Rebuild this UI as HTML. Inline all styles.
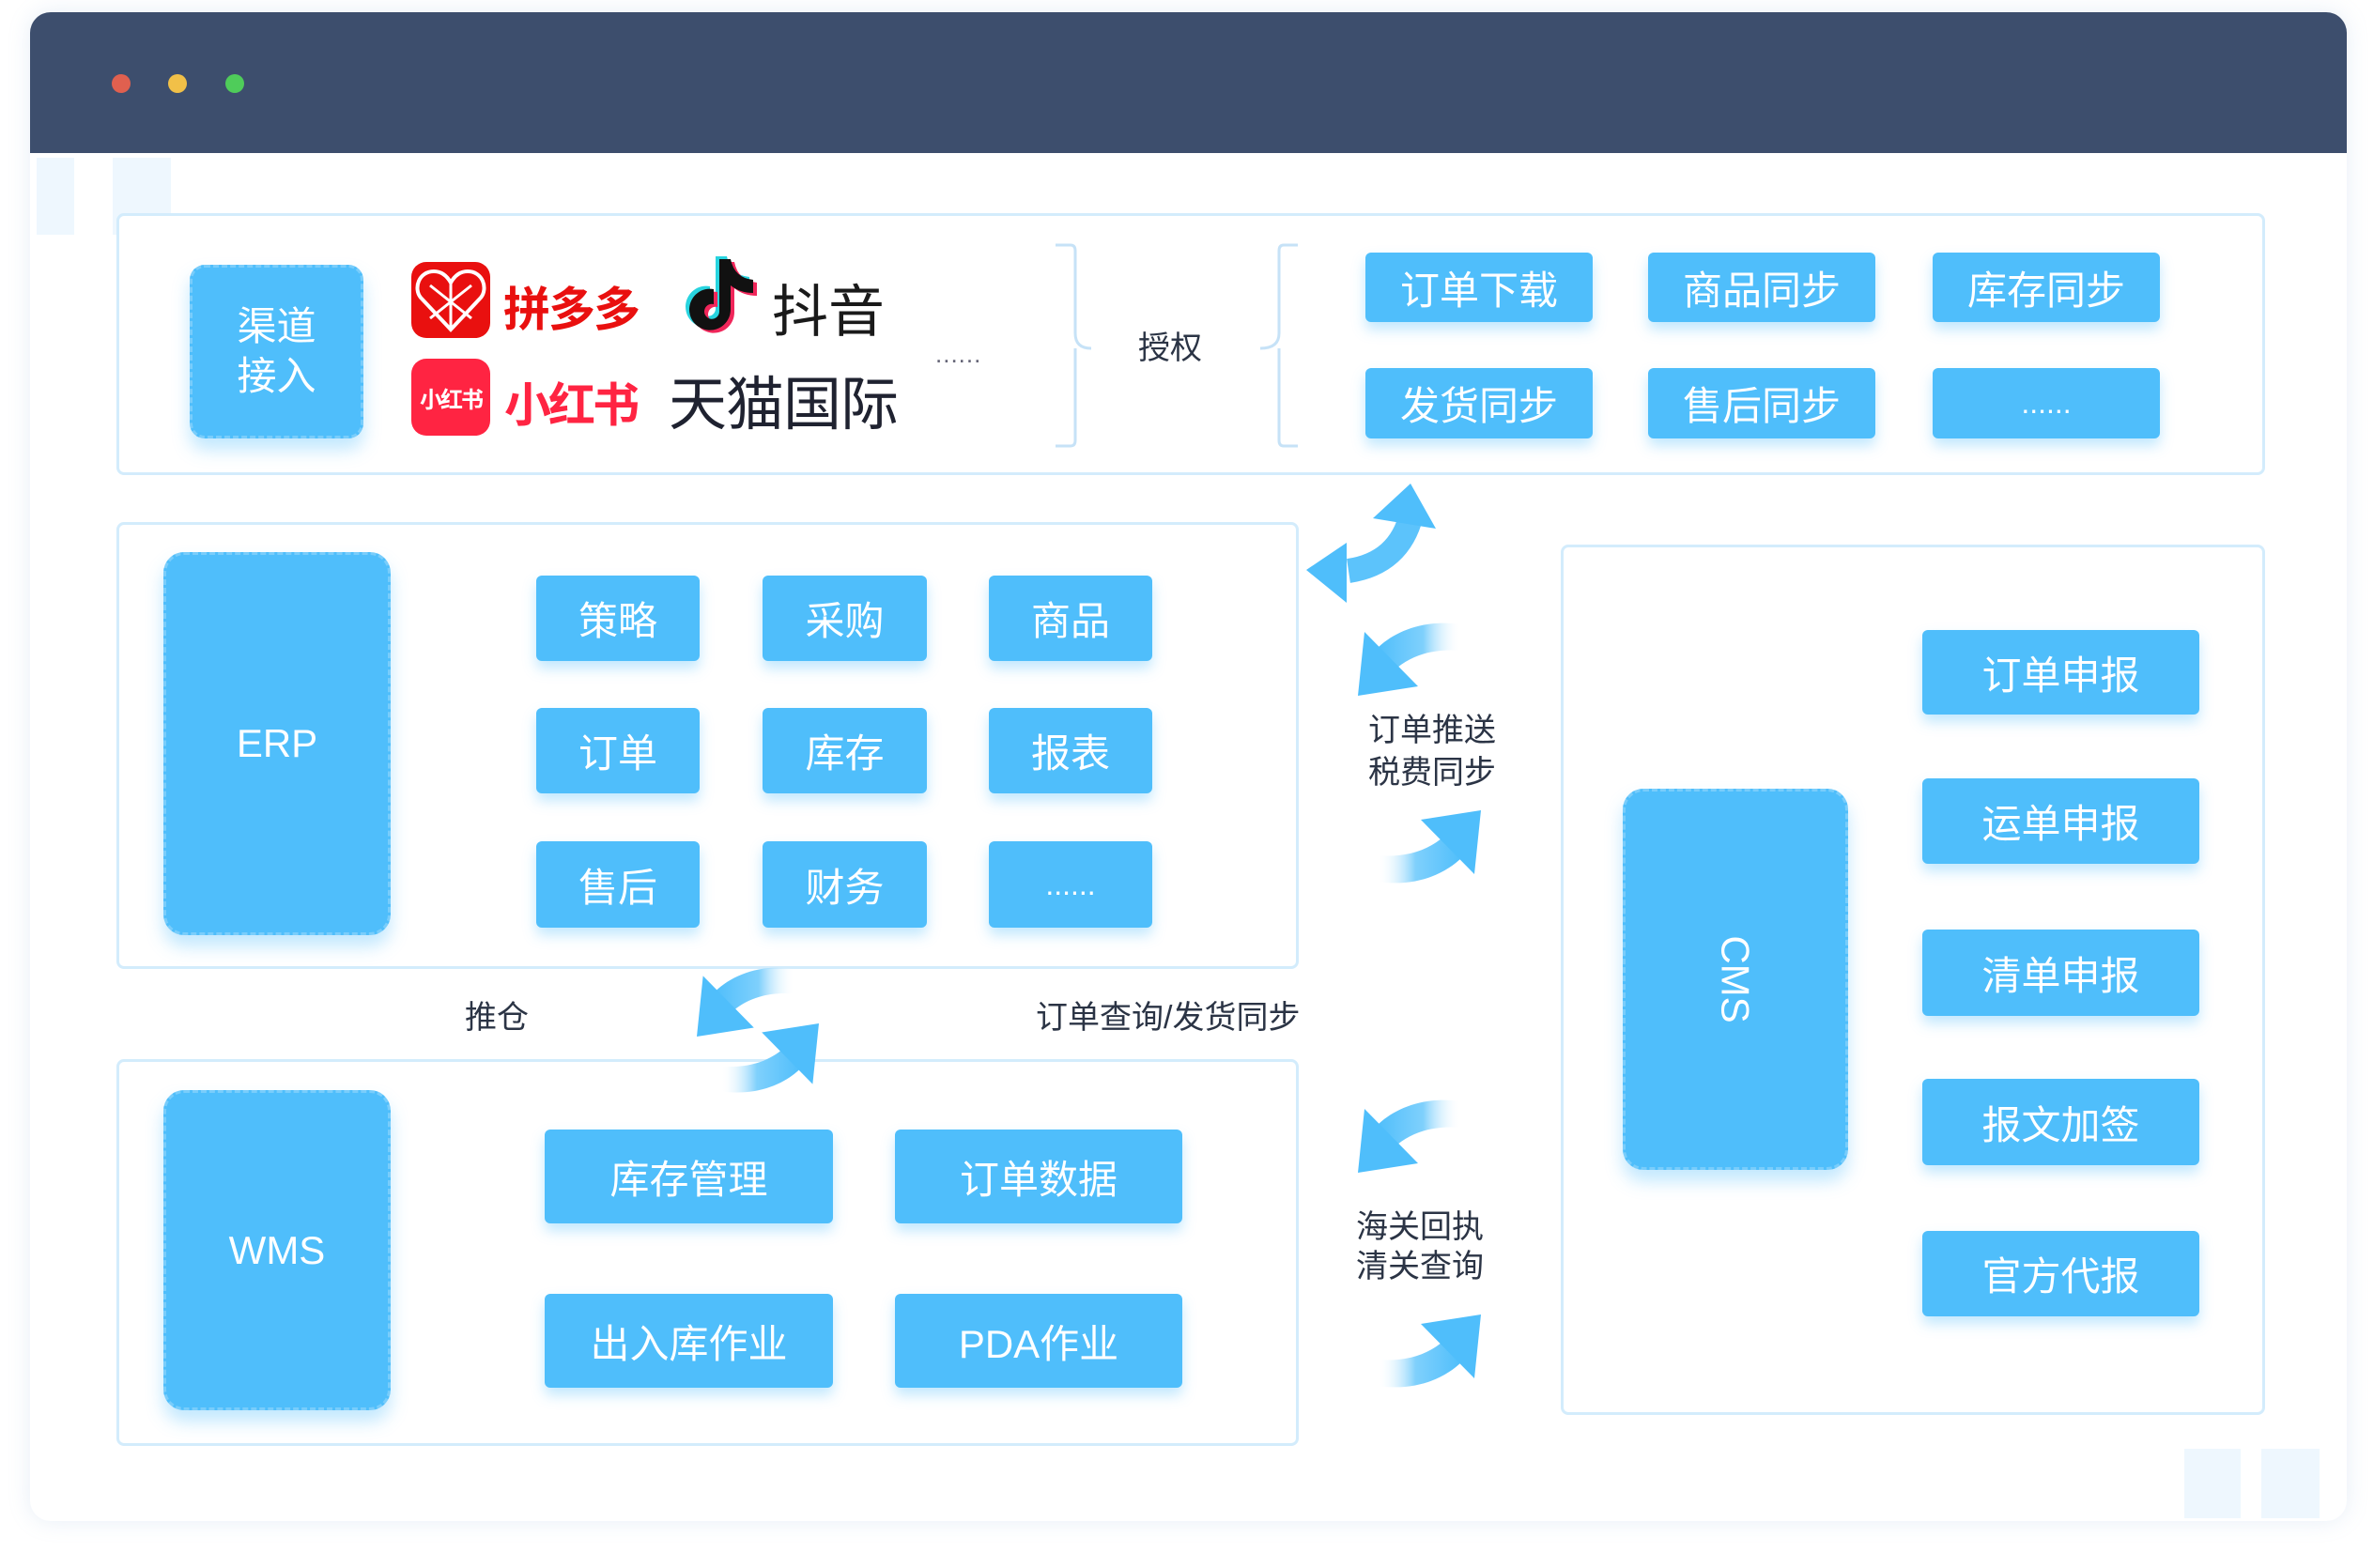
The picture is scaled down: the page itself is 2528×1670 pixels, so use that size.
<!DOCTYPE html>
<html><head><meta charset="utf-8">
<style>
*{margin:0;padding:0;box-sizing:border-box}
body{width:2528px;height:1670px;background:#fff;position:relative;overflow:hidden;font-family:"Liberation Sans","Noto Sans CJK SC",sans-serif}
.abs{position:absolute}
.win{left:32px;top:13px;width:2467px;height:1607px;border-radius:22px;background:#fff;box-shadow:0 0 24px rgba(120,160,210,.18);overflow:hidden}
.hdr{left:0;top:0;width:100%;height:150px;background:#3d4e6d}
.dot{width:20px;height:20px;border-radius:50%;top:66px}
.box{border:3px solid #d3ecfc;border-radius:8px;background:#fff}
.btn{background:#4fbefb;color:#fff;display:flex;align-items:center;justify-content:center;border-radius:6px;box-shadow:0 8px 14px rgba(79,190,251,.35);font-size:42px}
.blk{background:#4fbefb;color:#fff;display:flex;align-items:center;justify-content:center;border-radius:22px;border:3px dashed #79cdfb;box-shadow:0 12px 18px rgba(79,190,251,.35);font-size:42px}
.lbl{color:#2b3445;font-size:34px;line-height:1.3;white-space:nowrap}
</style></head><body>
<div class="abs win">
 <div class="abs hdr"></div>
 <div class="abs dot" style="left:87px;background:#e0604f"></div>
 <div class="abs dot" style="left:147px;background:#f1c048"></div>
 <div class="abs dot" style="left:208px;background:#4fcc5a"></div>
</div>
<!-- decorative quotes -->
<div class="abs" style="left:39px;top:168px;width:40px;height:82px;background:#eef7fe"></div>
<div class="abs" style="left:120px;top:168px;width:62px;height:82px;background:#eef7fe"></div>
<div class="abs" style="left:2326px;top:1543px;width:60px;height:74px;background:#eef7fe"></div>
<div class="abs" style="left:2408px;top:1543px;width:62px;height:74px;background:#eef7fe"></div>

<!-- top box -->
<div class="abs box" style="left:124px;top:227px;width:2288px;height:279px"></div>
<div class="abs blk" style="left:202px;top:282px;width:185px;height:185px;font-size:42px;line-height:1.25;text-align:center;border-radius:16px">渠道<br>接入</div>
<div class="abs" style="left:438px;top:279px;width:84px;height:81px;background:#e9100f;border-radius:16px;overflow:hidden">
 <svg width="84" height="81"><path d="M42 72 L10 38 C2 28 8 10 24 10 C32 10 38 15 42 22 C46 15 52 10 60 10 C76 10 82 28 74 38 Z" fill="none" stroke="#fff" stroke-width="4"/><path d="M20 25 L64 60 M64 25 L20 60 M42 18 L42 70" stroke="#fff" stroke-width="3"/></svg>
</div>
<div class="abs" style="left:536px;top:290px;font-size:50px;font-weight:bold;color:#e9100f;letter-spacing:-2px">拼多多</div>
<svg class="abs" style="left:726px;top:268px" width="84" height="94">
 <g transform="translate(-4,-3)"><path d="M52 8 V62 A22 22 0 1 1 34 40 V56 A8 8 0 1 0 40 64 V8 Z M52 8 Q56 28 76 30 V44 Q62 44 52 36" fill="#28d4df"/></g>
 <g transform="translate(4,3)"><path d="M52 8 V62 A22 22 0 1 1 34 40 V56 A8 8 0 1 0 40 64 V8 Z M52 8 Q56 28 76 30 V44 Q62 44 52 36" fill="#f0265a"/></g>
 <path d="M52 8 V62 A22 22 0 1 1 34 40 V56 A8 8 0 1 0 40 64 V8 Z M52 8 Q56 28 76 30 V44 Q62 44 52 36" fill="#111"/>
</svg>
<div class="abs" style="left:822px;top:284px;font-size:60px;color:#1a1a1a">抖音</div>
<div class="abs" style="left:438px;top:382px;width:84px;height:82px;background:#ff2442;border-radius:16px;color:#fff;font-size:24px;font-weight:bold;display:flex;align-items:center;justify-content:center;letter-spacing:-2px">小红书</div>
<div class="abs" style="left:537px;top:392px;font-size:50px;font-weight:bold;color:#ff2442;letter-spacing:-3px">小红书</div>
<div class="abs" style="left:712px;top:380px;font-size:62px;color:#1f2230;letter-spacing:-1px">天猫国际</div>
<div class="abs" style="left:996px;top:362px;font-size:26px;color:#667;letter-spacing:1px">......</div>
<svg class="abs" style="left:1120px;top:255px" width="280" height="230">
 <path d="M4 6 H20 Q25 6 25 12 V100 Q25 116 42 116 M25 116 V214 Q25 220 20 220 H4" fill="none" stroke="#c6e2f7" stroke-width="3"/>
 <path d="M262 6 H247 Q242 6 242 12 V100 Q242 116 222 116 M242 116 V214 Q242 220 247 220 H262" fill="none" stroke="#c6e2f7" stroke-width="3"/>
</svg>
<div class="abs lbl" style="left:1212px;top:349px">授权</div>
<div class="abs btn" style="left:1454px;top:269px;width:242px;height:74px">订单下载</div>
<div class="abs btn" style="left:1755px;top:269px;width:242px;height:74px">商品同步</div>
<div class="abs btn" style="left:2058px;top:269px;width:242px;height:74px">库存同步</div>
<div class="abs btn" style="left:1454px;top:392px;width:242px;height:75px">发货同步</div>
<div class="abs btn" style="left:1755px;top:392px;width:242px;height:75px">售后同步</div>
<div class="abs btn" style="left:2058px;top:392px;width:242px;height:75px;font-size:32px">......</div>

<!-- ERP -->
<div class="abs box" style="left:124px;top:556px;width:1259px;height:476px"></div>
<div class="abs blk" style="left:174px;top:588px;width:242px;height:408px">ERP</div>
<div class="abs btn" style="left:571px;top:613px;width:174px;height:91px">策略</div>
<div class="abs btn" style="left:812px;top:613px;width:175px;height:91px">采购</div>
<div class="abs btn" style="left:1053px;top:613px;width:174px;height:91px">商品</div>
<div class="abs btn" style="left:571px;top:754px;width:174px;height:91px">订单</div>
<div class="abs btn" style="left:812px;top:754px;width:175px;height:91px">库存</div>
<div class="abs btn" style="left:1053px;top:754px;width:174px;height:91px">报表</div>
<div class="abs btn" style="left:571px;top:896px;width:174px;height:92px">售后</div>
<div class="abs btn" style="left:812px;top:896px;width:175px;height:92px">财务</div>
<div class="abs btn" style="left:1053px;top:896px;width:174px;height:92px;font-size:32px">......</div>

<div class="abs lbl" style="left:495px;top:1062px">推仓</div>
<div class="abs lbl" style="left:1103px;top:1062px">订单查询/发货同步</div>

<!-- WMS -->
<div class="abs box" style="left:124px;top:1128px;width:1259px;height:412px"></div>
<div class="abs blk" style="left:174px;top:1161px;width:242px;height:341px">WMS</div>
<div class="abs btn" style="left:580px;top:1203px;width:307px;height:100px">库存管理</div>
<div class="abs btn" style="left:953px;top:1203px;width:306px;height:100px">订单数据</div>
<div class="abs btn" style="left:580px;top:1378px;width:307px;height:100px">出入库作业</div>
<div class="abs btn" style="left:953px;top:1378px;width:306px;height:100px">PDA作业</div>

<!-- CMS -->
<div class="abs box" style="left:1662px;top:580px;width:750px;height:927px"></div>
<div class="abs blk" style="left:1728px;top:840px;width:240px;height:406px"><span style="display:inline-block;transform:rotate(90deg)">CMS</span></div>
<div class="abs btn" style="left:2047px;top:671px;width:295px;height:90px">订单申报</div>
<div class="abs btn" style="left:2047px;top:829px;width:295px;height:91px">运单申报</div>
<div class="abs btn" style="left:2047px;top:990px;width:295px;height:92px">清单申报</div>
<div class="abs btn" style="left:2047px;top:1149px;width:295px;height:92px">报文加签</div>
<div class="abs btn" style="left:2047px;top:1311px;width:295px;height:91px">官方代报</div>

<div class="abs lbl" style="left:1457px;top:756px;line-height:45px">订单推送<br>税费同步</div>
<div class="abs lbl" style="left:1444px;top:1286px;line-height:42px">海关回执<br>清关查询</div>

<!-- arrows -->
<svg class="abs" style="left:0;top:0" width="2528" height="1670">
 <defs>
  <linearGradient id="g" x1="0" y1="0" x2="1" y2="0" gradientUnits="objectBoundingBox">
   <stop offset="0" stop-color="#4fbefb"/><stop offset="0.55" stop-color="#7fd0fc"/><stop offset="1" stop-color="#fff" stop-opacity="0"/>
  </linearGradient>
  <g id="ca">
   <path d="M110 4 C70 -2 38 12 20 30 L42 50 C62 34 86 30 110 32 Z" fill="url(#g)"/>
   <polygon points="0,80 7,12 64,70" fill="#4fbefb"/>
  </g>
 </defs>
 <path d="M1436 608 Q1490 600 1503 548" fill="none" stroke="#5cc3fb" stroke-width="26"/>
 <polygon points="1391,607 1434,578 1434,642" fill="#4fbefb"/>
 <polygon points="1502,515 1462,552 1529,563" fill="#4fbefb"/>
 <use href="#ca" transform="translate(1446,661)"/>
 <use href="#ca" transform="translate(1577,943) rotate(180)"/>
 <use href="#ca" transform="translate(1446,1169)"/>
 <use href="#ca" transform="translate(1577,1480) rotate(180)"/>
 <use href="#ca" transform="translate(742,1028) scale(0.95)"/>
 <use href="#ca" transform="translate(872,1166) rotate(180) scale(0.95)"/>
</svg>
</body></html>
